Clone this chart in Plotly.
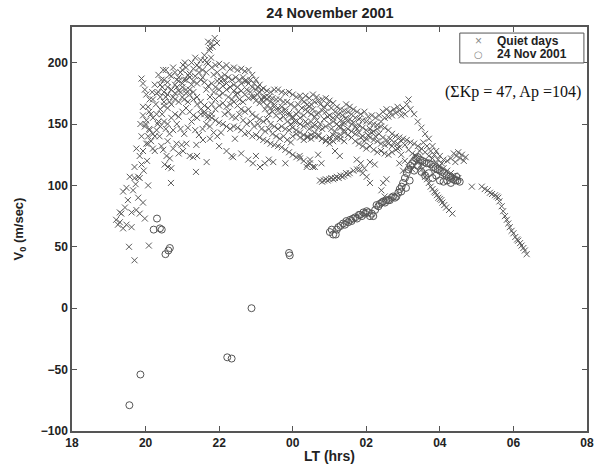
import plotly.graph_objects as go

# ---------------- data (LT in hours, 24 = 00 LT next day) ----------------
x_tickvals = [18, 20, 22, 24, 26, 28, 30, 32]
x_ticktext = ["18", "20", "22", "00", "02", "04", "06", "08"]
y_tickvals = [-100, -50, 0, 50, 100, 150, 200]

# Quiet days (crosses), grouped by visible strands
q_left = [(19.20,72),(19.25,68),(19.30,78),(19.34,77),(19.39,65),(19.30,70),(19.48,68),(19.55,50),
          (19.62,66),(19.62,78),(19.70,39),(19.75,80),(19.84,77),(19.93,86),(19.98,73),(20.09,51),
          (19.80,90),(19.39,95),(19.48,98),(20.07,100),(19.57,107),(19.70,106),(19.80,107),(19.84,106),
          (19.70,115),(19.89,117),(19.84,124),(19.75,130),(19.93,128),(20.02,134),(19.89,140),(19.98,148),
          (20.07,140),(19.93,157),(20.02,153),(20.11,145),(19.93,164),(20.07,164),(20.11,170),(20.02,174),
          (19.98,178),(19.93,183),(19.89,187),(20.43,186),(20.48,194),(20.25,128),(20.07,134),(20.20,130),
          (20.43,132),(20.48,129),(20.75,130),(20.84,134),(20.98,133),(21.11,134),(21.38,133),(21.56,137),
          (21.75,138),(20.69,102),(21.37,111),(20.61,115),(20.70,114),(20.52,117),(20.57,124),(20.66,122),
          (21.20,124),(21.29,123),(21.40,124),(21.66,119),(22.34,124),(22.38,123),(22.79,121),(22.00,132),
          (22.43,138),(22.92,118),(23.11,115),(23.24,118),(23.47,119),(24.19,124),(24.47,118),(24.55,115),
          (19.44,82),(19.52,88),(19.66,96),(19.73,101),(19.95,112),(20.04,120),(19.86,150),(20.14,158),
          (20.18,176),(20.28,166),(20.33,150),(20.38,140),(20.60,136),(20.90,126),(21.02,128),(22.20,128),
          (22.60,126),(23.00,124),(23.35,121),(23.80,118)]
q_spike = [(21.70,217),(21.79,216),(21.88,220),(21.75,212),(21.61,202),(21.66,200),(21.02,198),(21.07,200),
           (21.82,213),(21.73,210),(21.94,216),(21.78,204)]
q_d1 = [(20.4,182),(20.5,186),(20.6,184),(20.7,189),(20.8,192),(20.9,188),(21.0,194),(21.1,196),(21.2,191),
        (21.3,195),(21.4,198),(21.5,202),(21.6,206),(21.7,199),(21.8,196),(21.9,198),(22.0,199),(22.1,196),
        (22.2,198),(22.3,195),(22.4,196),(22.5,194),(22.6,195),(22.7,193),(22.8,194),(22.9,190),(23.0,186),
        (23.1,182),(23.2,179),(23.3,177),(23.4,176),(23.5,178),(23.6,178),(23.7,176),(23.8,175),(23.9,176),
        (24.0,174),(24.1,172),(24.2,173),(24.3,168),(24.4,166),(24.5,166),(24.6,168),(24.7,169),(24.8,170),
        (24.9,171),(25.0,169),(25.1,167),(25.2,164),(25.3,162),(25.4,161),(25.5,160),(25.6,158),(25.7,155),
        (25.8,154),(25.9,153),(26.0,152),(26.1,151),(26.2,150),(26.3,149),(26.4,152),(26.5,155),(26.6,156),
        (26.7,157),(26.8,159),(26.9,161),(27.0,163),(27.1,166),(27.15,170),(27.2,162),(27.3,158),(27.4,152),
        (27.5,147),(27.6,142),(27.7,138),(27.8,132),(27.9,128),(28.0,124),(28.1,121),(28.2,120)]
q_d2 = [(20.2,170),(20.3,175),(20.4,172),(20.5,168),(20.6,174),(20.7,178),(20.8,182),(20.9,185),(21.0,183),
        (21.1,186),(21.2,188),(21.3,185),(21.4,183),(21.5,186),(21.6,184),(21.7,181),(21.8,183),(21.9,180),
        (22.0,178),(22.1,181),(22.2,183),(22.3,180),(22.4,177),(22.5,175),(22.6,177),(22.7,174),(22.8,171),
        (22.9,172),(23.0,169),(23.1,167),(23.2,168),(23.3,165),(23.4,163),(23.5,164),(23.6,161),(23.7,160),
        (23.8,162),(23.9,159),(24.0,156),(24.1,158),(24.2,155),(24.3,157),(24.4,160),(24.5,158),(24.6,156),
        (24.7,159),(24.8,161),(24.9,160),(25.0,157),(25.1,155),(25.2,156),(25.3,153),(25.4,151),(25.5,152),
        (25.6,150),(25.7,148),(25.8,149),(25.9,147),(26.0,145),(26.1,146),(26.2,144),(26.3,146),(26.4,148),
        (26.5,147),(26.6,145),(26.7,142),(26.8,140),(26.9,139),(27.0,138),(27.1,137),(27.2,135),(27.3,134),
        (27.4,132),(27.5,130),(27.6,127),(27.7,124),(27.8,122),(27.9,118),(28.0,116),(28.1,114),(28.2,112),
        (28.3,110),(28.4,108),(28.5,106)]
q_d3 = [(20.1,160),(20.2,155),(20.3,158),(20.4,162),(20.5,165),(20.6,163),(20.7,166),(20.8,170),(20.9,168),
        (21.0,172),(21.1,175),(21.2,178),(21.3,176),(21.4,172),(21.5,168),(21.6,165),(21.7,163),(21.8,166),
        (21.9,170),(22.0,173),(22.1,175),(22.2,178),(22.3,180),(22.4,182),(22.5,180),(22.6,183),(22.7,185),
        (22.8,183),(22.9,180),(23.0,178),(23.1,176),(23.2,172),(23.3,170),(23.4,168),(23.5,166),(23.6,163),
        (23.7,164),(23.8,160),(23.9,157),(24.0,155),(24.1,152),(24.2,150),(24.3,148),(24.4,150),(24.5,152),
        (24.6,149),(24.7,147),(24.8,146),(24.9,148),(25.0,150),(25.1,152),(25.2,150),(25.3,147),(25.4,145),
        (25.5,146),(25.6,144),(25.7,142),(25.8,143),(25.9,140),(26.0,138),(26.1,139),(26.2,137),(26.3,136),
        (26.4,134),(26.5,133),(26.6,134),(26.7,132)]
q_d4 = [(20.0,150),(20.1,146),(20.2,142),(20.3,145),(20.4,148),(20.5,152),(20.6,150),(20.7,155),(20.8,158),
        (20.9,156),(21.0,160),(21.1,163),(21.2,160),(21.3,157),(21.4,155),(21.5,158),(21.6,160),(21.7,157),
        (21.8,155),(21.9,153),(22.0,151),(22.1,150),(22.2,148),(22.3,146),(22.4,148),(22.5,147),(22.6,145),
        (22.7,142),(22.8,143),(22.9,140),(23.0,141),(23.1,139),(23.2,137),(23.3,136),(23.4,134),(23.5,133),
        (23.6,132),(23.7,131),(23.8,129),(23.9,127),(24.0,125),(24.1,123),(24.2,122),(24.3,120),(24.4,117)]
q_d5 = [(20.5,176),(20.6,180),(20.7,178),(20.8,175),(20.9,177),(21.0,180),(21.1,178),(21.2,174),(21.3,170),
        (21.4,166),(21.5,162),(21.6,158),(21.7,155),(21.8,158),(21.9,162),(22.0,165),(22.1,167),(22.2,164),
        (22.3,166),(22.4,168),(22.5,165),(22.6,162),(22.7,160),(22.8,162),(22.9,158),(23.0,156),(23.1,154),
        (23.2,152),(23.3,154),(23.4,150),(23.5,148),(23.6,146),(23.7,148),(23.8,146),(23.9,145),(24.0,147),
        (24.1,145),(24.2,143),(24.3,141),(24.4,140),(24.5,138),(24.6,140),(24.7,141),(24.8,138),(24.9,137),
        (25.0,139),(25.1,141),(25.2,140),(25.3,138),(25.4,136)]
q_d7 = [(24.0,140),(24.1,142),(24.2,139),(24.3,137),(24.4,139),(24.5,141),(24.6,143),(24.7,140),(24.8,138),
        (24.9,136),(25.0,134),(25.1,136),(25.2,138),(25.3,141),(25.4,143),(25.5,141),(25.6,139),(25.7,136),
        (25.8,134),(25.9,132),(26.0,130),(26.1,132),(26.2,129),(26.3,127),(26.4,128),(26.5,126),(26.6,125),
        (26.7,127),(26.8,129),(26.9,131)]
q_d8 = [(20.35,190),(20.45,180),(20.55,172),(20.65,168),(20.75,172),(20.85,180),(20.95,176),(21.05,170),
        (21.15,168),(21.25,182),(21.35,189),(21.45,192),(21.55,188),(21.65,178),(21.75,172),(21.85,176),
        (21.95,185),(22.05,188),(22.15,186),(22.25,172),(22.35,170),(22.45,174),(22.55,170),(22.65,168),
        (22.75,178),(22.85,176),(22.95,172),(23.05,174),(23.15,170),(23.25,162),(23.35,158),(23.45,160),
        (23.55,157),(23.65,154),(23.75,156),(23.85,152),(23.95,150),(24.05,152),(24.15,160),(24.25,163),
        (24.35,162),(24.45,164),(24.55,162),(24.65,158)]
q_d9 = [(20.15,136),(20.25,140),(20.35,152),(20.45,158),(20.55,146),(20.65,142),(20.75,145),(20.85,150),
        (20.95,146),(21.05,142),(21.15,147),(21.25,152),(21.35,145),(21.45,141),(21.55,146),(21.65,150),
        (21.75,148),(21.85,143),(21.95,140),(22.05,143),(22.15,158),(22.25,160),(22.35,156),(22.45,155),
        (22.55,158),(22.65,153),(22.75,150),(22.85,152),(22.95,148),(23.05,150),(23.15,146),(23.25,144),
        (23.35,146),(23.45,142),(23.55,140),(23.65,138),(23.75,140),(23.85,137),(23.95,135)]
q_d10 = [(20.25,182),(20.35,176),(20.55,194),(20.65,190),(20.75,196),(20.85,186),(20.95,192),(21.05,186),
         (21.15,190),(21.25,200),(21.35,204),(21.45,196),(21.55,194),(21.65,192),(21.85,190),(21.95,192),
         (22.05,185),(22.15,190),(22.25,188),(22.35,186),(22.45,188),(22.55,186),(22.65,188),(22.75,185),
         (22.85,186),(22.95,183),(23.05,180),(23.15,178),(23.25,172),(23.35,172),(23.45,171),(23.55,170),
         (23.65,170),(23.75,168),(23.85,168),(23.95,166),(24.05,164),(24.15,166)]
q_d11 = [(24.35,152),(24.45,146),(24.55,148),(24.65,153),(24.75,150),(24.85,154),(24.95,156),(25.05,146),
         (25.15,144),(25.25,148),(25.35,150),(25.45,155),(25.55,154),(25.65,151),(25.75,146),(25.85,139),
         (25.95,136),(26.05,141),(26.15,143),(26.25,140),(26.35,142),(26.45,139),(26.55,137),(26.65,138),
         (26.75,135),(26.85,134),(26.95,136),(27.05,133),(27.15,129),(27.25,126),(27.35,124),(27.45,128),
         (27.55,135),(27.65,132),(27.75,128),(27.85,125),(27.95,121),(28.05,118)]
q_d12 = [(24.25,170),(24.35,173),(24.45,171),(24.55,174),(24.65,172),(24.75,166),(24.85,164),(24.95,166),
         (25.05,163),(25.15,160),(25.25,158),(25.35,157),(25.45,166),(25.55,164),(25.65,162),(25.75,160),
         (25.85,158),(25.95,160),(26.05,156),(26.15,157),(26.25,155),(26.35,157),(26.45,160),(26.55,162),
         (26.65,160),(26.75,162),(26.85,164),(26.95,157),(27.05,158)]
q_low = [(24.38,115),(24.47,121),(24.60,115),(24.69,125),(24.78,118),(25.01,137),(25.28,124),(25.15,128),
         (25.74,121),(25.85,118),(26.23,117),(26.10,119),(25.95,114),(26.46,102),(26.41,96),(26.50,91),
         (26.55,105),(26.85,130),(26.95,125),(27.05,120),(27.15,115),(27.25,113),(26.90,118),(27.00,112),
         (24.74,104),(24.80,103),(24.85,104),(24.90,105),(24.95,104),(25.00,105),(25.05,106),(25.10,105),
         (25.15,106),(25.20,107),(25.25,106),(25.30,108),(25.35,107),(25.40,108),(25.45,110),(25.50,109),
         (25.55,110),(25.65,112),(25.75,113),(25.82,113),(25.90,110),(26.01,107),(26.10,102)]
q_right = [(27.42,119),(27.47,116),(27.51,113),(27.56,110),(27.60,107),(27.65,105),(27.70,102),(27.75,99),
           (27.80,97),(27.85,95),(27.88,94),(27.92,92),(27.96,90),(28.00,89),(28.04,88),(28.07,86),
           (28.12,84),(28.17,82),(28.25,80),(28.34,77),
           (28.30,122),(28.38,126),(28.45,124),(28.50,127),(28.55,122),(28.60,125),(28.65,120),(28.70,123),
           (28.42,119),
           (28.87,99),(29.14,99),(29.22,97),(29.30,96),(29.36,94),(29.42,93),(29.50,92),(29.55,91),
           (29.59,90),(29.62,87),(29.68,83),(29.72,79),(29.77,75),(29.82,72),(29.86,69),(29.90,66),
           (29.95,63),(30.00,61),(30.05,58),(30.10,56),(30.13,55),(30.18,53),(30.22,51),(30.27,49),
           (30.31,47),(30.36,44)]

# 24 Nov 2001 (circles)
storm = [(19.56,-79),(19.86,-54),(20.31,73),(20.22,64),(20.39,65),(20.44,64),(20.54,44),(20.62,47),
         (20.66,49),(22.22,-40),(22.34,-41),(22.88,0),(23.90,45),(23.92,43),
         (25.01,62),(25.06,64),(25.10,60),(25.17,60),(25.20,64),(25.24,66),(25.30,67),(25.37,69),
         (25.42,68),(25.46,71),(25.51,70),(25.56,72),(25.60,71),(25.64,73),(25.70,74),(25.75,73),
         (25.80,76),(25.83,76),(25.88,75),(25.92,78),(25.97,77),(26.01,79),(26.05,78),(26.10,75),
         (26.15,77),(26.19,75),(26.24,80),(26.28,84),(26.33,83),(26.37,85),(26.42,86),(26.46,87),
         (26.51,86),(26.55,88),(26.60,88),(26.64,88),(26.69,90),(26.73,91),(26.78,90),(26.82,91),
         (26.87,94),(26.91,97),(26.96,99),(27.00,102),(27.05,106),(27.10,110),(27.15,113),(27.20,116),
         (27.25,118),(27.30,120),(27.35,122),(27.40,123),(27.46,121),(27.52,120),(27.58,119),(27.64,118),
         (27.70,118),(27.76,117),(27.82,115),(27.88,114),(27.94,113),(28.00,112),(28.06,111),(28.12,110),
         (28.18,108),(28.24,107),(28.30,106),(28.36,105),(28.42,104),(28.48,104),(28.54,103),
         (27.30,112),(27.40,116),(27.50,111),(27.60,108),(27.70,110),(27.80,106),(27.90,108),(28.00,104),
         (28.10,103),(28.20,104),(28.30,102),(28.45,107),(26.95,95),(27.08,98),(27.18,104)]

quiet = (q_left + q_spike + q_d1 + q_d2 + q_d3 + q_d4 + q_d5 + q_d7 + q_d8 + q_d9 + q_d10
         + q_d11 + q_d12 + q_low + q_right)
quiet_lt = [p[0] for p in quiet]
quiet_v = [p[1] for p in quiet]
storm_lt = [p[0] for p in storm]
storm_v = [p[1] for p in storm]

legend_labels = ["Quiet days", "24 Nov 2001"]
note_text = "(ΣKp = 47, Ap =104)"

# ---------------- figure ----------------
FONT = "Arial, Liberation Sans, sans-serif"
AX = "#555555"
XC = "#5a5a5a"
OC = "#555555"

fig = go.Figure()
fig.add_trace(go.Scatter(
    x=quiet_lt, y=quiet_v, mode="markers", name=legend_labels[0], showlegend=False,
    marker=dict(symbol="x-thin-open", size=6, color=XC, line=dict(width=1, color=XC))))
fig.add_trace(go.Scatter(
    x=storm_lt, y=storm_v, mode="markers", name=legend_labels[1], showlegend=False,
    marker=dict(symbol="circle-open", size=7, color=OC, line=dict(width=1, color=OC))))

fig.update_layout(
    width=605, height=470,
    paper_bgcolor="white", plot_bgcolor="white",
    margin=dict(l=72, r=18, t=27, b=39, autoexpand=False),
    title=dict(text="24 November 2001", x=330 / 605, xanchor="center", y=1 - 13 / 470, yanchor="middle",
               font=dict(family=FONT, size=14.5, color="#222", weight="bold")),
    font=dict(family=FONT, size=12, color="#222"),
    showlegend=False,
)
fig.update_xaxes(
    range=[18, 32], tickvals=x_tickvals, ticktext=x_ticktext, automargin=False,
    showline=True, linecolor=AX, linewidth=1.5, mirror="ticks",
    ticks="inside", ticklen=5, tickcolor=AX, showgrid=False, zeroline=False,
    tickfont=dict(family=FONT, size=12, color="#222", weight="bold"),
    title=dict(text="LT (hrs)", standoff=2, font=dict(family=FONT, size=14, color="#222", weight="bold")))
fig.update_yaxes(
    range=[-100, 229], tickvals=y_tickvals, automargin=False,
    showline=True, linecolor=AX, linewidth=1.5, mirror="ticks",
    ticks="inside", ticklen=5, tickcolor=AX, showgrid=False, zeroline=False,
    tickfont=dict(family=FONT, size=12, color="#222", weight="bold"),
    title=dict(text="V<sub>0</sub> (m/sec)", standoff=14, font=dict(family=FONT, size=13, color="#222", weight="bold")))

# custom legend box (MATLAB style)
fig.add_shape(type="rect", xref="paper", yref="paper", x0=0.753, x1=0.994, y0=0.911, y1=0.985,
              line=dict(color=AX, width=1), fillcolor="white", layer="above")
fig.add_annotation(x=0.79, y=0.965, xref="paper", yref="paper", text="×", showarrow=False,
                   font=dict(family=FONT, size=12, color="#888"), xanchor="center", yanchor="middle")
fig.add_annotation(x=0.79, y=0.932, xref="paper", yref="paper", text="○", showarrow=False,
                   font=dict(family="DejaVu Sans", size=10, color="#888"), xanchor="center", yanchor="middle")
fig.add_annotation(x=0.822, y=0.965, xref="paper", yref="paper", text=legend_labels[0], showarrow=False,
                   font=dict(family=FONT, size=12, color="#222", weight="bold"), xanchor="left", yanchor="middle")
fig.add_annotation(x=0.822, y=0.932, xref="paper", yref="paper", text=legend_labels[1], showarrow=False,
                   font=dict(family=FONT, size=12, color="#222", weight="bold"), xanchor="left", yanchor="middle")

fig.add_annotation(
    x=0.992, y=0.839, xref="paper", yref="paper", xanchor="right", yanchor="middle",
    text=note_text, showarrow=False,
    font=dict(family="Liberation Serif, Times New Roman, serif", size=16, color="#111"))

fig.write_html("out.html", config={"displayModeBar": False},
               post_script="document.body.style.margin='0';")
